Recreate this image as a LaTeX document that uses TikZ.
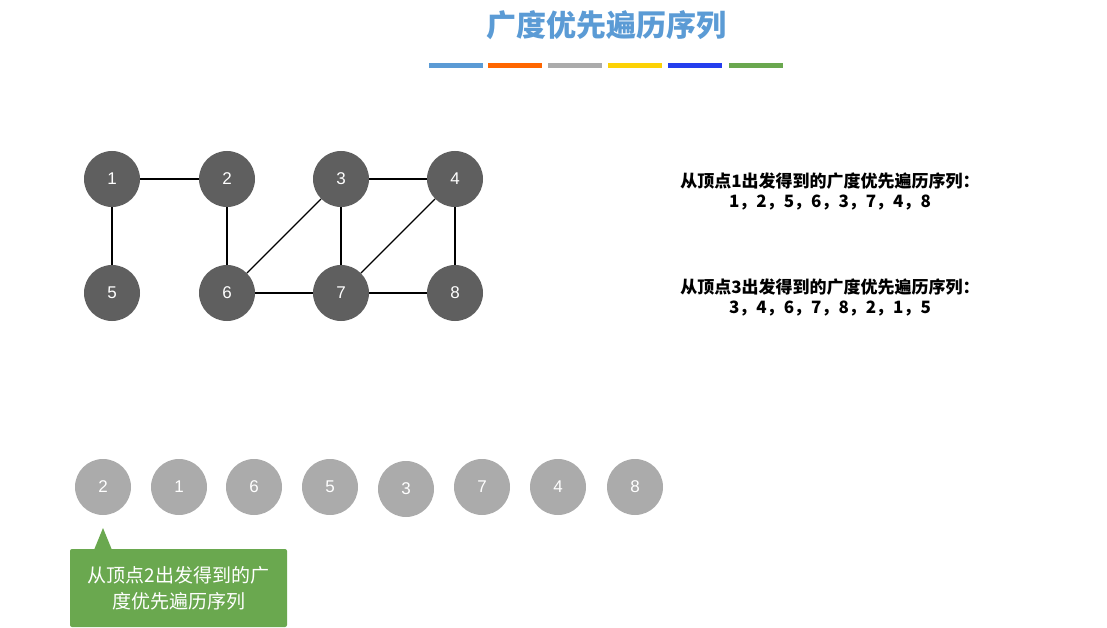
\documentclass[tikz,border=0pt]{standalone}
\usepackage{fontspec}
\setmainfont{Noto Sans CJK SC}
\newfontfamily\numfont{Liberation Sans}
\definecolor{vdark}{HTML}{5F5F5F}
\definecolor{vlight}{HTML}{ABABAB}
\definecolor{tblue}{HTML}{5B9BD5}
\definecolor{cgreen}{HTML}{6AA84F}
\begin{document}
\begin{tikzpicture}[x=1pt,y=-1pt,
  vtx/.style={circle,fill=vdark,minimum size=56pt,inner sep=0pt,text=white,font=\numfont\fontsize{17}{17}\selectfont},
  qnode/.style={circle,fill=vlight,minimum size=56pt,inner sep=0pt,text=white,font=\numfont\fontsize{17}{17}\selectfont},
  edge/.style={draw=black,line width=1.2pt},
  seq/.style={font=\bfseries\fontsize{17}{20}\selectfont,align=center}]
\useasboundingbox (0,0) rectangle (1107,628);
% title
\node[text=tblue,font=\bfseries\fontsize{30}{30}\selectfont] (title) at (606,25) {广度优先遍历序列};
\fill[tblue] (429,63) rectangle (483,68);
\fill[orange!80!red] (488,63) rectangle (542,68);
\fill[vlight] (548,63) rectangle (602,68);
\fill[yellow!70!orange] (608,63) rectangle (662,68);
\fill[blue!60!tblue] (668,63) rectangle (722,68);
\fill[cgreen] (729,63) rectangle (783,68);

% graph
\node[vtx] (v1) at (112,179) {1};
\node[vtx] (v2) at (227,179) {2};
\node[vtx] (v3) at (341,179) {3};
\node[vtx] (v4) at (455,179) {4};
\node[vtx] (v5) at (112,293) {5};
\node[vtx] (v6) at (227,293) {6};
\node[vtx] (v7) at (341,293) {7};
\node[vtx] (v8) at (455,293) {8};
\draw[edge] (v1) -- (v2);
\draw[edge] (v3) -- (v4);
\draw[edge] (v1) -- (v5);
\draw[edge] (v2) -- (v6);
\draw[edge] (v3) -- (v6);
\draw[edge] (v3) -- (v7);
\draw[edge] (v4) -- (v7);
\draw[edge] (v4) -- (v8);
\draw[edge] (v6) -- (v7);
\draw[edge] (v7) -- (v8);

% sequences
\node[seq] (s1) at (830,191) {从顶点1出发得到的广度优先遍历序列：\\1，2，5，6，3，7，4，8};
\node[seq] (s3) at (830,297) {从顶点3出发得到的广度优先遍历序列：\\3，4，6，7，8，2，1，5};

% queue
\node[qnode] (q1) at (103,487) {2};
\node[qnode] (q2) at (179,487) {1};
\node[qnode] (q3) at (254,487) {6};
\node[qnode] (q4) at (330,487) {5};
\node[qnode] (q5) at (406,489) {3};
\node[qnode] (q6) at (482,487) {7};
\node[qnode] (q7) at (558,487) {4};
\node[qnode] (q8) at (635,487) {8};

% callout
\fill[cgreen,rounded corners=2pt] (70,549) rectangle (287,627);
\fill[cgreen] (94,550) -- (103,528) -- (112,550) -- cycle;
\node[text=white,font=\fontsize{19}{26}\selectfont,align=center] (note) at (178.5,588) {从顶点2出发得到的广\\度优先遍历序列};
\end{tikzpicture}
\end{document}
